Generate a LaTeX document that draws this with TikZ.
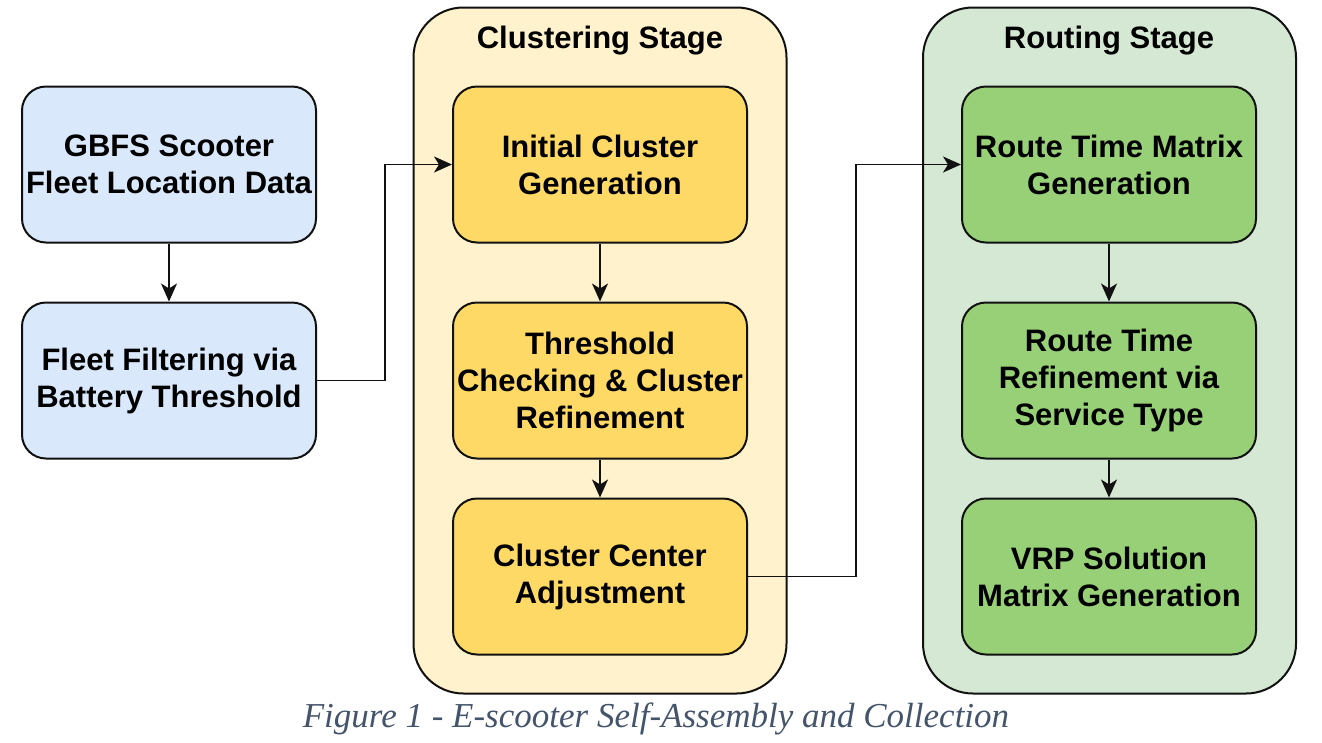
\documentclass[tikz,border=0pt]{standalone}
\usepackage{fontspec}
\setmainfont{Liberation Sans}
\newfontfamily\capfont{Liberation Serif}
\usetikzlibrary{arrows.meta,positioning}
\definecolor{bluefill}{HTML}{DAE8FC}
\definecolor{yelcont}{HTML}{FFF2CC}
\definecolor{yelbox}{HTML}{FFD966}
\definecolor{grncont}{HTML}{D5E8D4}
\definecolor{grnbox}{HTML}{97D077}
\definecolor{edgecol}{HTML}{111111}
\definecolor{capcol}{HTML}{44546A}
\tikzset{
  procbox/.style={draw=edgecol, line width=2pt, rounded corners=24pt,
    minimum width=294pt, minimum height=156pt, inner sep=0pt,
    align=center, font=\bfseries\fontsize{31}{37}\selectfont},
  stagebox/.style={draw=edgecol, line width=2pt, rounded corners=50pt,
    minimum width=373pt, minimum height=686pt, inner sep=0pt},
  stagetitle/.style={font=\bfseries\fontsize{31}{37}\selectfont, inner sep=0pt},
  flow/.style={draw=edgecol, line width=1.8pt, -{Stealth[length=18pt,width=16pt,inset=5pt]}},
}
\begin{document}
\begin{tikzpicture}[x=1pt,y=-1pt]
\useasboundingbox (0,0) rectangle (1322,742);
% containers
\node[stagebox, fill=yelcont] (cstage) at (600,350.5) {};
\node[stagebox, fill=grncont] (rstage) at (1109.5,350.5) {};
\node[stagetitle] (ctitle) at (600,41) {Clustering Stage};
\node[stagetitle] (rtitle) at (1109,41) {Routing Stage};
% left boxes
\node[procbox, fill=bluefill] (gbfs) at (169,164.5) {GBFS Scooter\\Fleet Location Data};
\node[procbox, fill=bluefill] (filt) at (169,380.5) {Fleet Filtering via\\Battery Threshold};
% clustering boxes
\node[procbox, fill=yelbox] (init) at (600,164.5) {Initial Cluster\\Generation};
\node[procbox, fill=yelbox] (thr) at (600,380.5) {Threshold\\Checking \& Cluster\\Refinement};
\node[procbox, fill=yelbox] (ctr) at (600,576.5) {Cluster Center\\Adjustment};
% routing boxes
\node[procbox, fill=grnbox] (rtm) at (1109,164.5) {Route Time Matrix\\Generation};
\node[procbox, fill=grnbox] (rtr) at (1109,380.5) {Route Time\\Refinement via\\Service Type};
\node[procbox, fill=grnbox] (vrp) at (1109,576.5) {VRP Solution\\Matrix Generation};
% connectors
\draw[flow] (gbfs) -- (filt);
\draw[flow] (filt.east) -- ++(68,0) |- (init.west);
\draw[flow] (init) -- (thr);
\draw[flow] (thr) -- (ctr);
\draw[flow] (ctr.east) -- ++(108,0) |- (rtm.west);
\draw[flow] (rtm) -- (rtr);
\draw[flow] (rtr) -- (vrp);
% caption
\node[font=\capfont\itshape\fontsize{35}{40}\selectfont, text=capcol, anchor=base, inner sep=0pt] (cap) at (656,727) {Figure 1 - E-scooter Self-Assembly and Collection};
\end{tikzpicture}
\end{document}
